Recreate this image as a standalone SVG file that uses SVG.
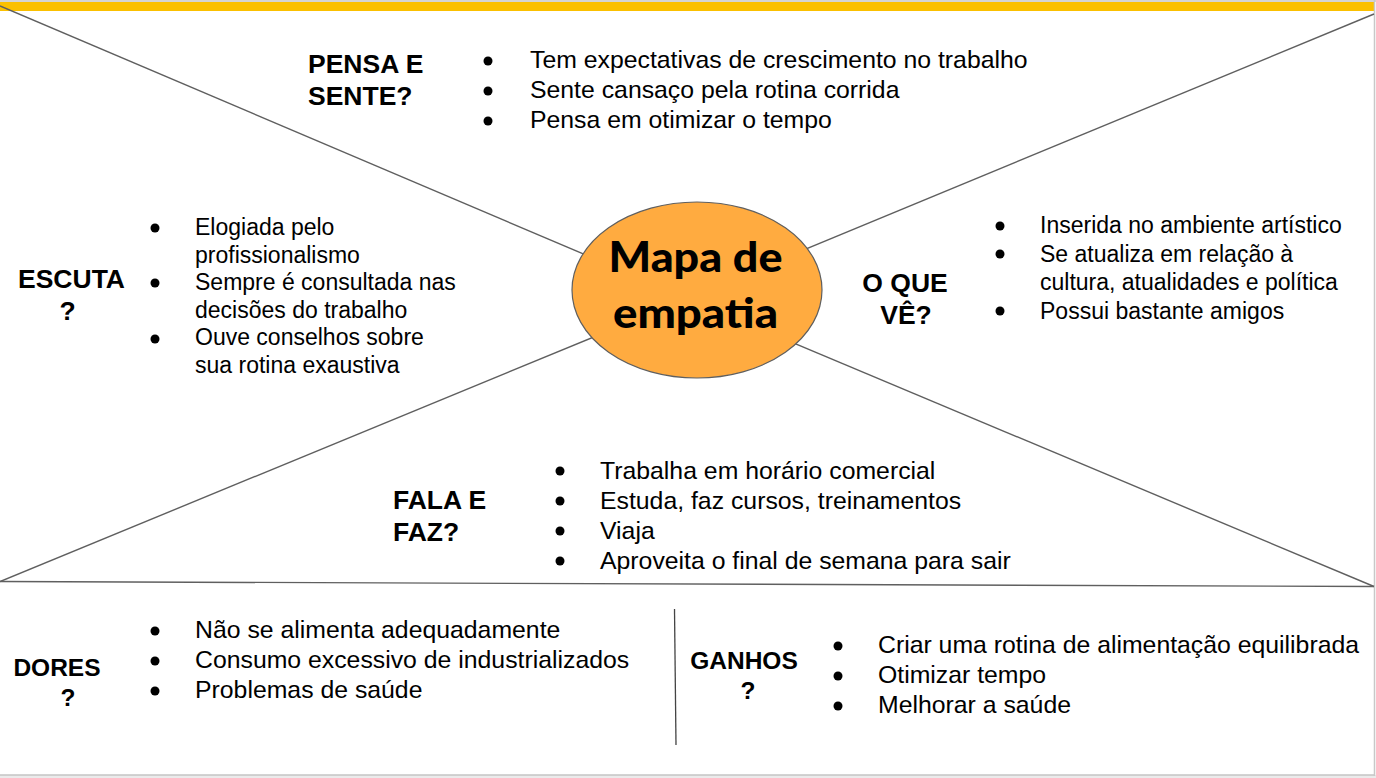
<svg xmlns="http://www.w3.org/2000/svg" width="1376" height="778" viewBox="0 0 1376 778">
<style>
.b{font-family:"Liberation Sans",Arial,sans-serif;font-size:24.8px;fill:#000}
.s{font-family:"Liberation Sans",Arial,sans-serif;font-size:23px;fill:#000}
.h{font-family:"Liberation Sans",Arial,sans-serif;font-size:26.5px;font-weight:bold;fill:#000}
.hs{font-family:"Liberation Sans",Arial,sans-serif;font-size:24.5px;font-weight:bold;fill:#000}
.t{font-family:Lato,"Open Sans",sans-serif;font-size:42px;font-weight:900;fill:#000}
.ln{stroke:#5f5f5f;stroke-width:1.4;fill:none}
.dot{fill:#000}
</style>
<rect x="0" y="0" width="1376" height="778" fill="#ffffff"/>
<rect x="0" y="0" width="1376" height="2" fill="#d4d4d4"/>
<rect x="0" y="2" width="1374" height="9" fill="#fbc000"/>
<rect x="0" y="775" width="1376" height="3" fill="#ebebeb"/>
<line x1="0" y1="775" x2="1375" y2="775" stroke="#c4c4c4" stroke-width="1.5"/>
<line x1="1374.5" y1="0" x2="1374.5" y2="776" stroke="#c8c8c8" stroke-width="1.5"/>

<g id="connectors">
<line class="ln" x1="0" y1="6" x2="640" y2="278"/>
<line class="ln" x1="1374" y1="14" x2="760" y2="268"/>
<line class="ln" x1="0" y1="581.5" x2="640" y2="318"/>
<line class="ln" x1="1374" y1="586.5" x2="760" y2="329"/>
<line class="ln" x1="0" y1="581.5" x2="1374" y2="586.5"/>
<line x1="674.5" y1="609" x2="676" y2="745" stroke="#444" stroke-width="1.3"/>
</g>

<g id="center">
<ellipse cx="697" cy="290" rx="125" ry="88" fill="#ffab40" stroke="#5f5f5f" stroke-width="1.2"/>
<text class="t" x="695.5" y="272" text-anchor="middle" textLength="174" lengthAdjust="spacingAndGlyphs">Mapa de</text>
<text class="t" x="695.5" y="328" text-anchor="middle" textLength="165" lengthAdjust="spacingAndGlyphs">empatia</text>
</g>

<g id="pensa">
<text class="h" x="308" y="73">PENSA E</text>
<text class="h" x="308" y="105">SENTE?</text>
<circle class="dot" cx="488" cy="61" r="4.5"/>
<circle class="dot" cx="488" cy="91" r="4.5"/>
<circle class="dot" cx="488" cy="121" r="4.5"/>
<text class="b" x="530" y="68">Tem expectativas de crescimento no trabalho</text>
<text class="b" x="530" y="98">Sente cansaço pela rotina corrida</text>
<text class="b" x="530" y="128">Pensa em otimizar o tempo</text>
</g>

<g id="escuta">
<text class="h" x="71.5" y="288" text-anchor="middle">ESCUTA</text>
<text class="h" x="67.5" y="320" text-anchor="middle">?</text>
<circle class="dot" cx="155" cy="228" r="4.5"/>
<circle class="dot" cx="155" cy="283" r="4.5"/>
<circle class="dot" cx="155" cy="339" r="4.5"/>
<text class="s" x="195" y="235">Elogiada pelo</text>
<text class="s" x="195" y="262.5">profissionalismo</text>
<text class="s" x="195" y="290">Sempre é consultada nas</text>
<text class="s" x="195" y="317.5">decisões do trabalho</text>
<text class="s" x="195" y="345">Ouve conselhos sobre</text>
<text class="s" x="195" y="372.5">sua rotina exaustiva</text>
</g>

<g id="ve">
<text class="h" x="905" y="292" text-anchor="middle">O QUE</text>
<text class="h" x="906" y="324" text-anchor="middle">VÊ?</text>
<circle class="dot" cx="1000" cy="226" r="4.5"/>
<circle class="dot" cx="1000" cy="254" r="4.5"/>
<circle class="dot" cx="1000" cy="311" r="4.5"/>
<text class="s" x="1040" y="233">Inserida no ambiente artístico</text>
<text class="s" x="1040" y="261.5">Se atualiza em relação à</text>
<text class="s" x="1040" y="290">cultura, atualidades e política</text>
<text class="s" x="1040" y="318.5">Possui bastante amigos</text>
</g>

<g id="fala">
<text class="h" x="393" y="509">FALA E</text>
<text class="h" x="393" y="541">FAZ?</text>
<circle class="dot" cx="560" cy="471" r="4.5"/>
<circle class="dot" cx="560" cy="501" r="4.5"/>
<circle class="dot" cx="560" cy="531" r="4.5"/>
<circle class="dot" cx="560" cy="561" r="4.5"/>
<text class="b" x="600" y="479">Trabalha em horário comercial</text>
<text class="b" x="600" y="509">Estuda, faz cursos, treinamentos</text>
<text class="b" x="600" y="539">Viaja</text>
<text class="b" x="600" y="569">Aproveita o final de semana para sair</text>
</g>

<g id="dores">
<text class="hs" x="57" y="676" text-anchor="middle">DORES</text>
<text class="hs" x="68" y="706" text-anchor="middle">?</text>
<circle class="dot" cx="155" cy="631" r="4.5"/>
<circle class="dot" cx="155" cy="661" r="4.5"/>
<circle class="dot" cx="155" cy="691" r="4.5"/>
<text class="b" x="195" y="638">Não se alimenta adequadamente</text>
<text class="b" x="195" y="668">Consumo excessivo de industrializados</text>
<text class="b" x="195" y="698">Problemas de saúde</text>
</g>

<g id="ganhos">
<text class="hs" x="744" y="669" text-anchor="middle">GANHOS</text>
<text class="hs" x="748" y="699" text-anchor="middle">?</text>
<circle class="dot" cx="838" cy="646" r="4.5"/>
<circle class="dot" cx="838" cy="676" r="4.5"/>
<circle class="dot" cx="838" cy="706" r="4.5"/>
<text class="b" x="878" y="653">Criar uma rotina de alimentação equilibrada</text>
<text class="b" x="878" y="683">Otimizar tempo</text>
<text class="b" x="878" y="713">Melhorar a saúde</text>
</g>
</svg>
